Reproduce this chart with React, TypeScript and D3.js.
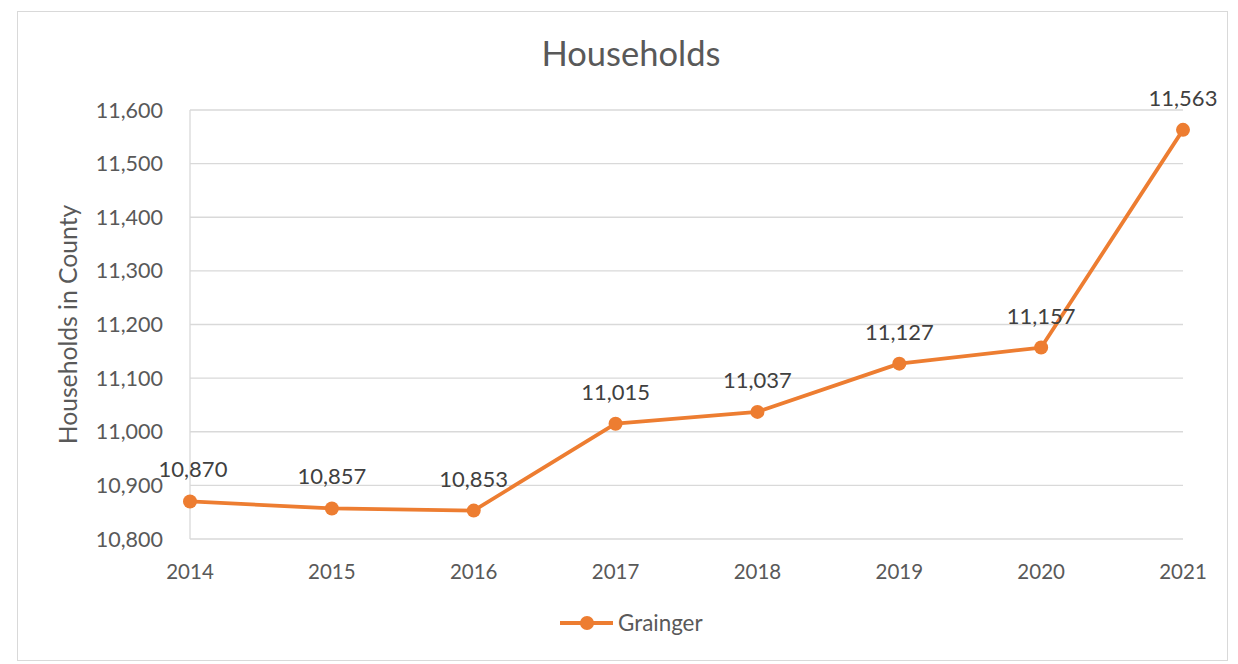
import React from "react";
import * as d3 from "d3";

const years = ["2014", "2015", "2016", "2017", "2018", "2019", "2020", "2021"];
const households = [10870, 10857, 10853, 11015, 11037, 11127, 11157, 11563];
const yTicks = [10800, 10900, 11000, 11100, 11200, 11300, 11400, 11500, 11600];
const seriesName = "Grainger";
const chartTitle = "Households";
const yTitle = "Households in County";

const W = 1238, H = 664;
const left = 190, right = 1183, top = 110, bottom = 539;
const color = "#ED7D31";
const textColor = "#595959";
const font = "Lato, 'Open Sans', 'Liberation Sans', sans-serif";

export default function App() {
  const x = d3.scalePoint<string>().domain(years).range([left, right]);
  const y = d3.scaleLinear().domain([10800, 11600]).range([bottom, top]);
  const fmt = d3.format(",");
  const line = d3.line<number>().x((_, i) => x(years[i])!).y((d) => y(d));
  return (
    <svg width={W} height={H} style={{ position: "absolute", left: 0, top: 0 }} fontFamily={font}>
      <rect x={17.5} y={11.5} width={1210} height={649} fill="#fff" stroke="#d9d9d9" strokeWidth={1} />
      <text x={631} y={66} textAnchor="middle" fontSize={34.5} fill={textColor}>{chartTitle}</text>
      {yTicks.map((t) => (
        <g key={t}>
          <line x1={left} x2={right} y1={y(t)} y2={y(t)} stroke="#d9d9d9" strokeWidth={1.3} />
          <text x={left - 27} y={y(t)} dy="0.35em" textAnchor="end" fontSize={21.5} fill={textColor}>{fmt(t)}</text>
        </g>
      ))}
      <line x1={left} x2={left} y1={top} y2={bottom} stroke="#d9d9d9" strokeWidth={1.3} />
      {years.map((yr) => (
        <text key={yr} x={x(yr)} y={579} textAnchor="middle" fontSize={20.5} fill={textColor}>{yr}</text>
      ))}
      <text transform={`translate(68,${(top + bottom) / 2}) rotate(-90)`} dy="0.35em" textAnchor="middle" fontSize={24.7} fill={textColor}>{yTitle}</text>
      <path d={line(households)!} fill="none" stroke={color} strokeWidth={3.8} strokeLinejoin="round" />
      {households.map((v, i) => (
        <g key={i}>
          <circle cx={x(years[i])} cy={y(v)} r={7} fill={color} />
          <text x={x(years[i])! + (i === 0 ? 3 : 0)} y={y(v) - 24} textAnchor="middle" fontSize={22} fill="#404040">{fmt(v)}</text>
        </g>
      ))}
      <line x1={560} x2={613} y1={623} y2={623} stroke={color} strokeWidth={3.8} />
      <circle cx={587} cy={623} r={7} fill={color} />
      <text x={618} y={623} dy="0.35em" fontSize={22.4} fill={textColor}>{seriesName}</text>
    </svg>
  );
}
